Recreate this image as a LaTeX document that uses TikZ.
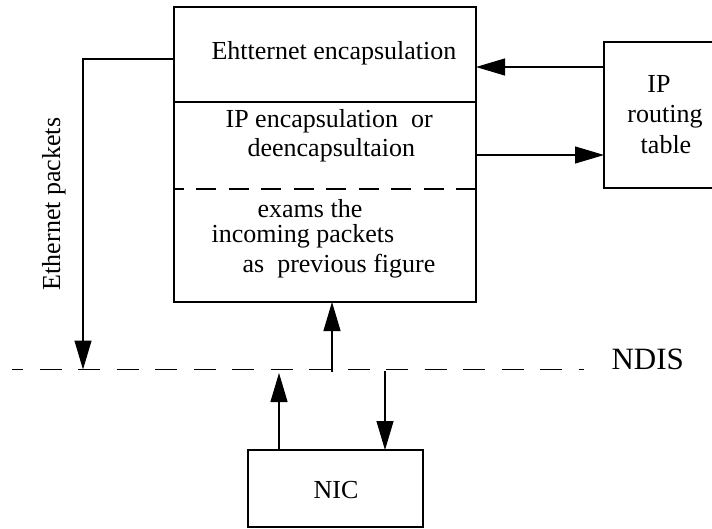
\documentclass[tikz,border=0pt]{standalone}
\usepackage{fontspec}
\setmainfont{Liberation Serif}
\usetikzlibrary{arrows.meta}
\begin{document}
\begin{tikzpicture}[x=1pt,y=-1pt,
  line width=1.2pt,
  box/.style={draw,line width=1.2pt,inner sep=0pt,rectangle},
  txt/.style={inner sep=0pt,anchor=base west,font=\fontsize{26}{30}\selectfont},
  ctxt/.style={inner sep=0pt,anchor=base,font=\fontsize{26}{30}\selectfont},
  arr/.style={-{Triangle[length=29pt,width=17pt]}},
  ndash/.style={dash pattern=on 22pt off 16.5pt,dash phase=11pt},
  bdash/.style={dash pattern=on 20pt off 12.44pt,dash phase=10pt}]
\clip (0,0) rectangle (712,529);
\useasboundingbox (0,0) rectangle (712,529);
% boxes
\node[box,minimum width=302pt,minimum height=295pt] (main) at (325,154.5) {};
\node[box,minimum width=120pt,minimum height=146pt] (ip) at (664,115) {};
\node[box,minimum width=175pt,minimum height=77pt] (nic) at (335.5,488.5) {};
% dividers
\coordinate (d1l) at (174,102); \coordinate (d1r) at (476,102);
\coordinate (d2l) at (174,189); \coordinate (d2r) at (476,189);
\draw (d1l) -- (d1r);
\draw[bdash] (d2l) -- (d2r);
% texts in main box
\node[txt] (t1) at (211,60) {Ehtternet encapsulation};
\node[txt] (t2) at (225,128) {IP encapsulation\ \ or};
\node[txt] (t3) at (247,157) {deencapsultaion};
\node[txt] (t4) at (257,218) {exams the};
\node[txt] (t5) at (211,243) {incoming packets};
\node[txt] (t6) at (242,273) {as\ \ previous figure};
% IP box texts
\node[ctxt] (ip1) at (659,93) {IP};
\node[ctxt] (ip2) at (665,123) {routing};
\node[ctxt] (ip3) at (666,154) {table};
% NIC
\node[ctxt] (nict) at (336,498) {NIC};
% NDIS line
\coordinate (ndisL) at (12,369.5);
\coordinate (ndisR) at (584,369.5);
\draw[ndash] (ndisL) -- (ndisR);
\node[inner sep=0pt,anchor=base west,font=\fontsize{31}{35}\selectfont] (ndis) at (611,369) {NDIS};
% Ethernet packets label
\node[inner sep=0pt,anchor=base,rotate=90,font=\fontsize{26}{30}\selectfont] (eth) at (60,204) {Ethernet packets};
% connectors
\coordinate (ethA) at (174,59);
\coordinate (ethB) at (83,59);
\coordinate (ethC) at (83,369.5);
\draw[arr] (ethA) -- (ethB) -- (ethC);
\coordinate (ipA) at (604,67); \coordinate (ipB) at (476,67);
\draw[arr] (ipA) -- (ipB);
\coordinate (mA) at (476,155); \coordinate (mB) at (604,155);
\draw[arr] (mA) -- (mB);
\coordinate (upA) at (332,372); \coordinate (upB) at (332,302);
\draw[arr] (upA) -- (upB);
\coordinate (nuA) at (279,450); \coordinate (nuB) at (279,373);
\draw[arr] (nuA) -- (nuB);
\coordinate (ndA) at (385,371); \coordinate (ndB) at (385,450);
\draw[arr] (ndA) -- (ndB);
\end{tikzpicture}
\end{document}
